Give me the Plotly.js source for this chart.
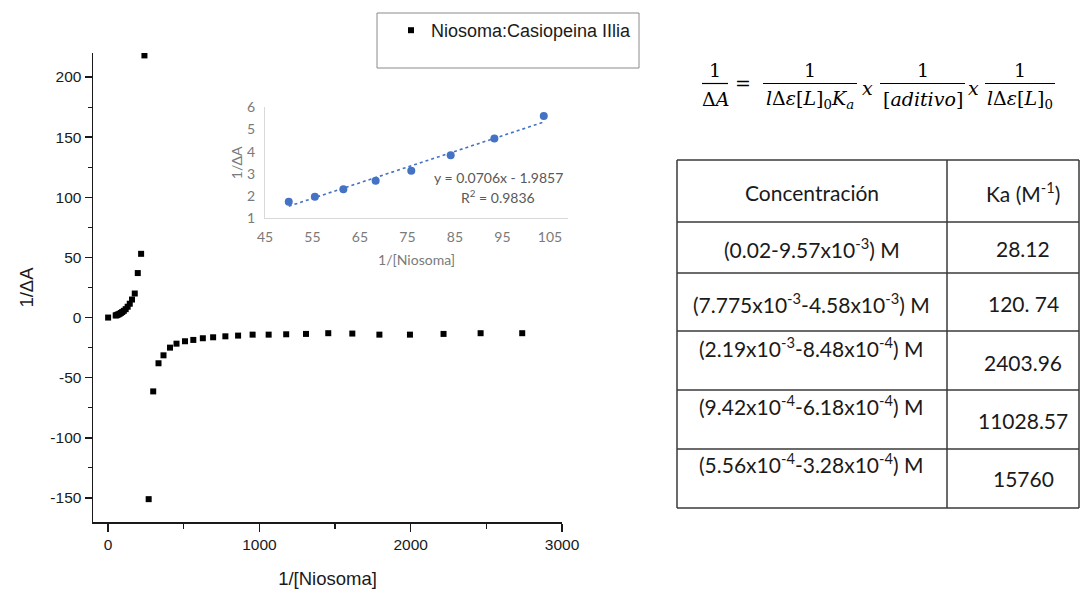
<!DOCTYPE html>
<html><head><meta charset="utf-8">
<script src="https://cdn.plot.ly/plotly-3.0.1.min.js"></script>
<style>html,body{margin:0;padding:0;background:#fff}#chart{width:1089px;height:590px}</style>
</head><body><div id="chart"></div>
<script>
// ---------- data ----------
const seriesName = 'Niosoma:Casiopeina IIlia';
const mainX = [0, 50.0, 55.5, 61.5, 68.3, 75.8, 84.1, 93.3, 103.7, 116, 129, 143, 158, 176, 196, 218, 240,
  268, 298, 333, 366, 409, 452, 508, 563, 626, 694, 775, 859, 955, 1061, 1177, 1308, 1455, 1614, 1793, 1995, 2217, 2462, 2737];
const mainY = [0, 1.75, 1.97, 2.31, 2.69, 3.14, 3.84, 4.59, 5.61, 7.0, 9.0, 11.5, 15.0, 20.0, 37.0, 53.0, 218.0,
  -151.0, -61.4, -38.0, -31.4, -25.0, -21.7, -19.7, -18.6, -17.2, -16.4, -15.6, -15.0, -14.2, -14.2, -13.9, -13.6, -13.0, -13.3, -14.2, -14.2, -13.6, -13.0, -13.0];
const insetX = [50.0, 55.5, 61.5, 68.3, 75.8, 84.1, 93.3, 103.7];
const insetY = [1.75, 1.97, 2.31, 2.69, 3.14, 3.84, 4.59, 5.61];
const fitSlope = 0.0706, fitIntercept = -1.9857, fitR2 = 0.9836;
const mainXTitle = '1/[Niosoma]', mainYTitle = '1/ΔA';
const mainXTicks = [0, 1000, 2000, 3000];
const mainYTicks = [-150, -100, -50, 0, 50, 100, 150, 200];
const insetXTicks = [45, 55, 65, 75, 85, 95, 105];
const tableHeader = ['Concentración', 'Ka (M<sup>-1</sup>)'];
const tableConc = ['(0.02-9.57x10<sup>-3</sup>) M', '(7.775x10<sup>-3</sup>-4.58x10<sup>-3</sup>) M',
  '(2.19x10<sup>-3</sup>-8.48x10<sup>-4</sup>) M', '(9.42x10<sup>-4</sup>-6.18x10<sup>-4</sup>) M',
  '(5.56x10<sup>-4</sup>-3.28x10<sup>-4</sup>) M'];
const tableKa = ['28.12', '120. 74', '2403.96', '11028.57', '15760'];

// ---------- layout helpers (pixel -> paper) ----------
const W = 1089, H = 590;
const px = x => x / W, py = y => 1 - y / H;

const fitX = [insetX[0], insetX[insetX.length - 1]];
const fitY = fitX.map(x => fitSlope * x + fitIntercept);

const traces = [
  {x: mainX, y: mainY, type: 'scatter', mode: 'markers', name: seriesName,
   marker: {symbol: 'square', size: 6, color: '#000'}, xaxis: 'x', yaxis: 'y'},
  {x: insetX, y: insetY, type: 'scatter', mode: 'markers', showlegend: false,
   marker: {symbol: 'circle', size: 8, color: '#4472C4'}, xaxis: 'x2', yaxis: 'y2'},
  {x: fitX, y: fitY, type: 'scatter', mode: 'lines', showlegend: false,
   line: {color: '#4472C4', width: 1.6, dash: 'dot'}, xaxis: 'x2', yaxis: 'y2'}
];

const mainFont = {family: 'Liberation Sans, Arial, sans-serif', size: 15.5, color: '#1a1a1a'};
const insetFont = {family: 'Lato, sans-serif', size: 14, color: '#7a7a7a'};
const tabFont = {family: 'Lato, sans-serif', size: 21, color: '#1a1a1a'};
const eqFont = {family: 'DejaVu Serif, serif', size: 19, color: '#000'};

const shapes = [];
const annotations = [];

// legend box
shapes.push({type: 'rect', xref: 'paper', yref: 'paper', x0: px(377), x1: px(639), y0: py(13), y1: py(68),
  line: {color: '#8a8a8a', width: 1}, fillcolor: 'rgba(0,0,0,0)'});

// inset fit annotation
annotations.push({xref: 'paper', yref: 'paper', x: px(498), y: py(177), text: 'y = ' + fitSlope + 'x - ' + Math.abs(fitIntercept),
  showarrow: false, font: {family: 'Lato, sans-serif', size: 14, color: '#595959'}, xanchor: 'center', yanchor: 'middle'});
annotations.push({xref: 'paper', yref: 'paper', x: px(498), y: py(196), text: 'R<sup>2</sup> = ' + fitR2,
  showarrow: false, font: {family: 'Lato, sans-serif', size: 14, color: '#595959'}, xanchor: 'center', yanchor: 'middle'});

// equation
const eqParts = [
  {num: '1', den: 'Δ<i>A</i>', cx: 715, x0: 702, x1: 728},
  {num: '1', den: '<i>l</i>Δ<i>ε</i>[<i>L</i>]<sub>0</sub><i>K</i><sub><i>a</i></sub>', cx: 810, x0: 763, x1: 857},
  {num: '1', den: '[<i>aditivo</i>]', cx: 923, x0: 880, x1: 965},
  {num: '1', den: '<i>l</i>Δ<i>ε</i>[<i>L</i>]<sub>0</sub>', cx: 1020, x0: 985, x1: 1055}
];
eqParts.forEach(p => {
  annotations.push({xref: 'paper', yref: 'paper', x: px(p.cx), y: py(70), text: p.num, showarrow: false, font: eqFont, xanchor: 'center', yanchor: 'middle'});
  annotations.push({xref: 'paper', yref: 'paper', x: px(p.cx), y: py(99), text: p.den, showarrow: false, font: eqFont, xanchor: 'center', yanchor: 'middle'});
  shapes.push({type: 'line', xref: 'paper', yref: 'paper', x0: px(p.x0), x1: px(p.x1), y0: py(83.5), y1: py(83.5), line: {color: '#000', width: 1.2}});
});
[['=', 743, 83], ['<i>x</i>', 867, 88], ['<i>x</i>', 973, 88]].forEach(o => {
  annotations.push({xref: 'paper', yref: 'paper', x: px(o[1]), y: py(o[2]), text: o[0], showarrow: false, font: eqFont, xanchor: 'center', yanchor: 'middle'});
});

// table
const tL = 677, tR = 1079, tC = 947;
const rowLines = [160, 222, 273, 331, 390, 449, 508];
const tabLine = {color: '#3a3a3a', width: 1.5};
rowLines.forEach(y => shapes.push({type: 'line', xref: 'paper', yref: 'paper', x0: px(tL), x1: px(tR), y0: py(y), y1: py(y), line: tabLine}));
[tL, tC, tR].forEach(x => shapes.push({type: 'line', xref: 'paper', yref: 'paper', x0: px(x), x1: px(x), y0: py(rowLines[0]), y1: py(rowLines[rowLines.length - 1]), line: tabLine}));
const colCx = [812, 1023];
const headY = 192;
const concY = [248, 303, 347, 405, 463];
const kaY = [248, 303, 362, 420, 478];
tableHeader.forEach((t, i) => annotations.push({xref: 'paper', yref: 'paper', x: px(colCx[i]), y: py(headY), text: t, showarrow: false, font: tabFont, xanchor: 'center', yanchor: 'middle'}));
tableConc.forEach((t, i) => annotations.push({xref: 'paper', yref: 'paper', x: px(colCx[0]), y: py(concY[i]), text: t, showarrow: false, font: tabFont, xanchor: 'center', yanchor: 'middle'}));
tableKa.forEach((t, i) => annotations.push({xref: 'paper', yref: 'paper', x: px(colCx[1]), y: py(kaY[i]), text: t, showarrow: false, font: tabFont, xanchor: 'center', yanchor: 'middle'}));

const layout = {
  width: W, height: H,
  margin: {l: 0, r: 0, t: 0, b: 0},
  paper_bgcolor: '#fff', plot_bgcolor: 'rgba(0,0,0,0)',
  showlegend: true,
  legend: {x: px(391), y: py(12), xanchor: 'left', yanchor: 'top', bgcolor: 'rgba(0,0,0,0)',
    font: {family: 'Liberation Sans, Arial, sans-serif', size: 18, color: '#1a1a1a'}},
  xaxis: {domain: [px(93), px(562)], range: [-100, 3000], anchor: 'y', automargin: false,
    showline: true, linecolor: '#1a1a1a', linewidth: 1.5, mirror: false, showgrid: false, zeroline: false,
    ticks: 'outside', ticklen: 8, tickwidth: 1.5, tickcolor: '#1a1a1a',
    tickmode: 'array', tickvals: mainXTicks, ticktext: mainXTicks.map(String),
    minor: {dtick: 500, tick0: 0, ticks: 'outside', ticklen: 5, tickwidth: 1.2, tickcolor: '#1a1a1a', showgrid: false},
    tickfont: mainFont,
    title: {text: mainXTitle, font: {family: 'Liberation Sans, Arial, sans-serif', size: 18.5, color: '#1a1a1a'}, standoff: 20}},
  yaxis: {domain: [py(522), py(53)], range: [-170, 220], anchor: 'x', automargin: false,
    showline: true, linecolor: '#1a1a1a', linewidth: 1.5, mirror: false, showgrid: false, zeroline: false,
    ticks: 'outside', ticklen: 7, tickwidth: 1.5, tickcolor: '#1a1a1a',
    tickmode: 'array', tickvals: mainYTicks, ticktext: mainYTicks.map(String),
    minor: {dtick: 25, tick0: 0, ticks: 'outside', ticklen: 4, tickwidth: 1.2, tickcolor: '#1a1a1a', showgrid: false},
    tickfont: mainFont,
    title: {text: mainYTitle, font: {family: 'Liberation Sans, Arial, sans-serif', size: 18.5, color: '#1a1a1a'}, standoff: 12}},
  xaxis2: {domain: [px(265), px(568)], range: [45, 108.8], anchor: 'y2', automargin: false,
    showline: true, linecolor: '#d9d9d9', linewidth: 1, showgrid: false, zeroline: false, ticks: '',
    tickmode: 'array', tickvals: insetXTicks, tickfont: insetFont, ticklabelstandoff: 6,
    title: {text: mainXTitle, font: {family: 'Lato, sans-serif', size: 14, color: '#7a7a7a'}, standoff: 11}},
  yaxis2: {domain: [py(218.3), py(107.3)], range: [1, 6], anchor: 'x2', automargin: false, dtick: 1,
    showline: true, linecolor: '#d9d9d9', linewidth: 1, showgrid: false, zeroline: false, ticks: '',
    tickfont: insetFont, ticklabelstandoff: 6,
    title: {text: mainYTitle, font: {family: 'Lato, sans-serif', size: 14, color: '#7a7a7a'}, standoff: 1}},
  shapes: shapes,
  annotations: annotations
};

Plotly.newPlot('chart', traces, layout, {staticPlot: true, displayModeBar: false});
</script>
</body></html>
